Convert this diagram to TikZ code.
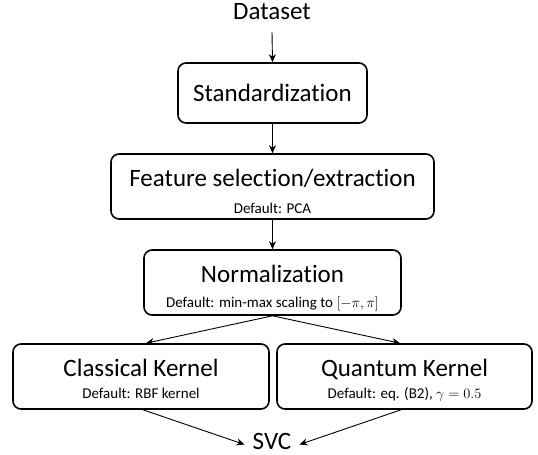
\documentclass[tikz,border=0pt]{standalone}
\usepackage{fontspec}
\setmainfont{Carlito}[Ligatures={NoCommon}]
\usetikzlibrary{arrows.meta}
\begin{document}
\begin{tikzpicture}[x=1pt,y=-1pt,
  box/.style={draw, line width=1.6pt, rounded corners=8pt, inner sep=0pt},
  big/.style={font=\fontsize{25}{28}\selectfont, inner sep=0pt, anchor=base},
  small/.style={font=\fontsize{15}{18}\selectfont, inner sep=0pt, anchor=base},
  arr/.style={-{Stealth[length=8pt,width=7pt]}, line width=0.9pt}]
\useasboundingbox (0,0) rectangle (538,455);
% boxes
\node[box, minimum width=189pt, minimum height=60pt] (std) at (272.5,93) {};
\node[box, minimum width=323pt, minimum height=65pt] (feat) at (272.5,186.5) {};
\node[box, minimum width=257pt, minimum height=65pt] (norm) at (272.5,282.5) {};
\node[box, minimum width=256pt, minimum height=65pt] (cls) at (141,376.5) {};
\node[box, minimum width=255pt, minimum height=65pt] (qk) at (404.5,376.5) {};
% texts
\node[big] (data) at (272,19.5) {Dataset};
\node[big] (stdt) at (272.5,101.7) {Standardization};
\node[big] (featt) at (272.5,186) {Feature selection/extraction};
\node[small] (feats) at (272.5,213) {Default: PCA};
\node[big] (normt) at (272.5,282) {Normalization};
\node[small] (norms) at (272.5,307) {Default: min-max scaling to $[-\pi,\pi]$};
\node[big] (clst) at (141,376) {Classical Kernel};
\node[small] (clss) at (141,398) {Default: RBF kernel};
\node[big] (qkt) at (404.5,376) {Quantum Kernel};
\node[small] (qks) at (404.5,398) {Default: eq. (B2), $\gamma=0.5$};
\node[font=\fontsize{25}{28}\selectfont, inner xsep=8pt, inner ysep=0pt] (svc) at (272,441.5) {SVC};
\coordinate (datab) at (272,32);
% connectors
\draw[arr] (datab) -- (std.north);
\draw[arr] (std.south) -- (feat.north);
\draw[arr] (feat.south) -- (norm.north);
\draw[arr] (norm.south) -- ([xshift=5pt]cls.north);
\draw[arr] (norm.south) -- ([xshift=-4.5pt]qk.north);
\draw[arr] ([xshift=2pt]cls.south) -- ([yshift=-3pt]svc.west);
\draw[arr] ([xshift=-3.5pt]qk.south) -- ([yshift=-3pt]svc.east);
\end{tikzpicture}
\end{document}
